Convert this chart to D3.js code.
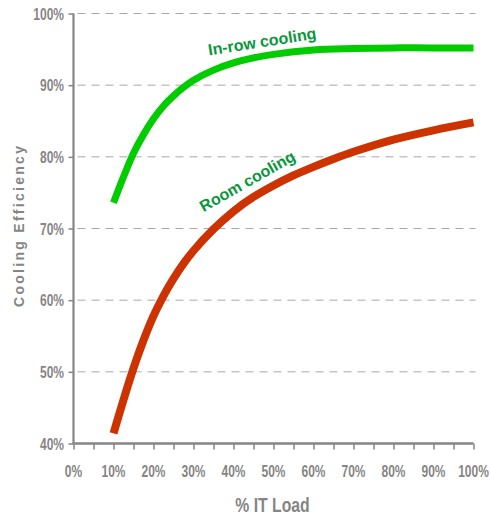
<!DOCTYPE html>
<html><head><meta charset="utf-8">
<script src="https://cdn.jsdelivr.net/npm/d3@7"></script>
<style>html,body{margin:0;padding:0;background:#fff;}svg{display:block;}</style>
</head><body>
<script>
// ---- data ----
const inrowLoad = [10, 12.5, 15, 17.5, 20, 22.5, 25, 27.5, 30, 35, 40, 45, 50, 60, 70, 80, 90, 100];
const inrowEff  = [73.6, 77.2, 80.5, 83.1, 85.3, 87.1, 88.5, 89.7, 90.7, 92.1, 93.1, 93.8, 94.3, 94.9, 95.1, 95.2, 95.2, 95.2];
const roomLoad  = [10, 12.5, 15, 17.5, 20, 22.5, 25, 27.5, 30, 35, 40, 45, 50, 55, 60, 65, 70, 80, 90, 100];
const roomEff   = [41.4, 46.1, 50.5, 54.4, 57.8, 60.6, 63.0, 65.1, 66.9, 69.9, 72.4, 74.4, 76.0, 77.4, 78.6, 79.7, 80.7, 82.4, 83.7, 84.8];
const xTicks = [0,10,20,30,40,50,60,70,80,90,100];
const xMinorTicks = d3.range(0, 101, 5);
const yTicks = [40,50,60,70,80,90,100];
const xTitle = "% IT Load";
const yTitle = "Cooling Efficiency";
const seriesLabels = ["In-row cooling", "Room cooling"];

const W = 491, H = 518;
const svg = d3.select("body").append("svg").attr("width", W).attr("height", H);
const x = d3.scaleLinear().domain([0,100]).range([73.5, 473.5]);
const y = d3.scaleLinear().domain([40,100]).range([443.5, 13.5]);
const gray = "#858585";
const narrow = 0.75;

// gridlines
svg.append("g").selectAll("line").data(yTicks.filter(d => d > 40)).join("line")
  .attr("x1", x(0) + 4).attr("x2", x(100) + 2)
  .attr("y1", d => y(d)).attr("y2", d => y(d))
  .attr("stroke", "#a8a8a8").attr("stroke-width", 1)
  .attr("stroke-dasharray", "8,6");

// helper for condensed text
function ntext(g, tx, ty, txt, size, anchor, weight) {
  return g.append("g").attr("transform", `translate(${tx},${ty}) scale(${narrow},1)`)
    .append("text").text(txt)
    .attr("font-family", "Liberation Sans, Arial, sans-serif")
    .attr("font-size", size).attr("font-weight", weight || "bold")
    .attr("fill", gray).attr("text-anchor", anchor);
}

// y axis
const yAxis = svg.append("g").attr("transform", `translate(${x(0)},0)`)
  .call(d3.axisLeft(y).tickValues(yTicks).tickSize(5).tickFormat(""));
yAxis.select(".domain").attr("stroke", gray).attr("stroke-width", 2.2).attr("d", `M0,${y(100)}V${y(40)}`);
yAxis.selectAll(".tick line").attr("stroke", gray).attr("stroke-width", 1.5);
const yl = svg.append("g");
yTicks.forEach(t => ntext(yl, 64, y(t) + 6, t + "%", 16, "end"));

// x axis
const xAxis = svg.append("g").attr("transform", `translate(0,${y(40)})`)
  .call(d3.axisBottom(x).tickValues(xMinorTicks).tickSize(6).tickFormat(""));
xAxis.select(".domain").attr("stroke", gray).attr("stroke-width", 2.5).attr("d", `M${x(0)-1},0H${x(100)}`);
xAxis.selectAll(".tick line").attr("stroke", gray).attr("stroke-width", 1.5);
const xl = svg.append("g");
xTicks.forEach(t => ntext(xl, x(t), 477, t + "%", 16, "middle"));

// axis titles
ntext(svg, 272.5, 512, xTitle, 21, "middle");
svg.append("text").text(yTitle)
  .attr("transform", "translate(23.5,226.5) rotate(-90)")
  .attr("text-anchor", "middle")
  .attr("font-family", "Liberation Sans, Arial, sans-serif")
  .attr("font-size", 14).attr("font-weight", "bold").attr("fill", gray)
  .attr("textLength", 161).attr("lengthAdjust", "spacing");

// lines
const line = d3.line().x(d => x(d[0])).y(d => y(d[1])).curve(d3.curveCatmullRom.alpha(0.5));
svg.append("path").datum(roomLoad.map((l,i) => [l, roomEff[i]]))
  .attr("d", line).attr("fill", "none").attr("stroke", "#cc3300").attr("stroke-width", 8);
svg.append("path").datum(inrowLoad.map((l,i) => [l, inrowEff[i]]))
  .attr("d", line).attr("fill", "none").attr("stroke", "#00cc00").attr("stroke-width", 7);

// series labels
const lblColor = "#08983c";
svg.append("text").text(seriesLabels[0])
  .attr("transform", "translate(263,47) rotate(-9)")
  .attr("text-anchor", "middle").attr("font-family", "Liberation Sans, Arial, sans-serif")
  .attr("font-size", 16).attr("font-weight", "bold").attr("fill", lblColor);
svg.append("text").text(seriesLabels[1])
  .attr("transform", "translate(250,186) rotate(-29.5)")
  .attr("text-anchor", "middle").attr("font-family", "Liberation Sans, Arial, sans-serif")
  .attr("font-size", 16).attr("font-weight", "bold").attr("fill", lblColor);
</script>
</body></html>
